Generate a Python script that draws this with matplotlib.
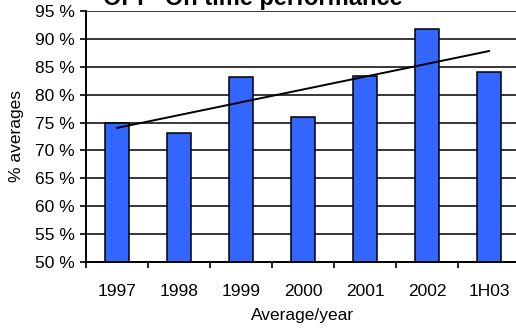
import matplotlib
matplotlib.use("Agg")
import matplotlib.pyplot as plt
import numpy as np
from matplotlib.ticker import FixedLocator, FuncFormatter

plt.rcParams['font.family'] = ['Liberation Sans', 'DejaVu Sans']

categories = ['1997', '1998', '1999', '2000', '2001', '2002', '1H03']
values = [75.0, 73.2, 83.2, 76.0, 83.3, 91.8, 84.0]
yticks = [50, 55, 60, 65, 70, 75, 80, 85, 90, 95]

W, H = 516, 329
fig = plt.figure(figsize=(W / 100, H / 100), dpi=100)
ax = fig.add_axes([86 / W, 1 - 262 / H, 434 / W, (262 - 11) / H])

x = np.arange(len(categories))
ax.set_xlim(-0.5, len(categories) - 0.5)
ax.set_ylim(50, 95)

for yv in yticks:
    ax.axhline(yv, color='black', lw=1.1, zorder=1)

ax.bar(x, values, width=0.39, color='#3366FF', edgecolor='black', lw=1.1, zorder=3)

coef = np.polyfit(x, values, 1)
ax.plot([x[0], x[-1]], np.polyval(coef, [x[0], x[-1]]), color='black', lw=1.4, zorder=4)

for s in ['top', 'right']:
    ax.spines[s].set_visible(False)
for s in ['left', 'bottom']:
    ax.spines[s].set_linewidth(1.4)
    ax.spines[s].set_zorder(5)

fs = 12.5
ax.yaxis.set_major_locator(FixedLocator(yticks))
ax.yaxis.set_major_formatter(FuncFormatter(lambda v, p: f"{int(v)} %"))
ax.tick_params(axis='y', direction='out', length=4, width=1.2, labelsize=fs, pad=4)

ax.set_xticks(x)
ax.set_xticklabels(categories)
ax.set_xticks(np.arange(len(categories) + 1) - 0.5, minor=True)
ax.tick_params(axis='x', which='major', length=0, labelsize=fs, pad=16)
ax.tick_params(axis='x', which='minor', direction='out', length=4, width=1.2)

ax.set_xlabel('Average/year', fontsize=fs, labelpad=6)
ax.set_ylabel('% averages', fontsize=fs, labelpad=8)

fig.text(253 / W, 1 - (-2) / H, 'OPI - On time performance', ha='center', va='center',
         fontsize=17, fontweight='bold')

fig.savefig('out.png', dpi=100)
